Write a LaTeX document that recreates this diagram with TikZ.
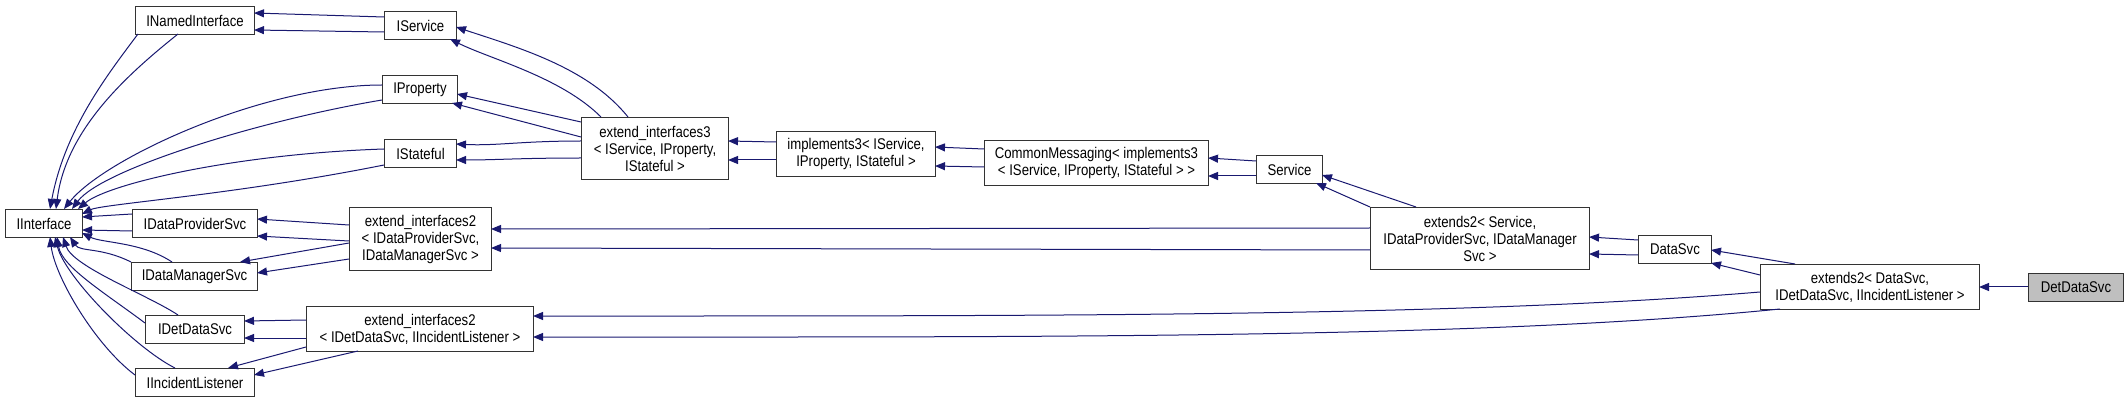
\documentclass[tikz,border=0pt]{standalone}
\usepackage{fontspec}
\setmainfont{Liberation Sans}[FakeStretch=0.85]
\usetikzlibrary{arrows.meta}
\definecolor{edgec}{RGB}{25,25,112}
\begin{document}
\begin{tikzpicture}[x=1pt,y=-1pt,
  box/.style={draw=black!80,line width=1pt,fill=white,anchor=north west,inner sep=0pt,align=center,font=\fontsize{15.5}{17}\selectfont},
  e/.style={draw=edgec,line width=1pt,-{Triangle[length=10pt,width=8pt]}}]
\useasboundingbox (0,0) rectangle (2128,403);
\node[box,minimum width=119,minimum height=28] (INI) at (135,6) {INamedInterface};
\node[box,minimum width=72,minimum height=28] (ISv) at (384,11) {IService};
\node[box,minimum width=75,minimum height=28] (IPr) at (382,75) {IProperty};
\node[box,minimum width=72,minimum height=28] (ISt) at (384,139) {IStateful};
\node[box,minimum width=147,minimum height=62] (E3) at (581,117) {extend\_interfaces3\\{}< IService, IProperty,\\IStateful >};
\node[box,minimum width=77,minimum height=28] (II) at (5,209) {IInterface};
\node[box,minimum width=125,minimum height=28] (IDP) at (132,209) {IDataProviderSvc};
\node[box,minimum width=126,minimum height=28] (IDM) at (131,262) {IDataManagerSvc};
\node[box,minimum width=142,minimum height=63] (E2D) at (349,207) {extend\_interfaces2\\{}< IDataProviderSvc,\\IDataManagerSvc >};
\node[box,minimum width=99,minimum height=28] (IDD) at (145,315) {IDetDataSvc};
\node[box,minimum width=119,minimum height=28] (IIL) at (135,368) {IIncidentListener};
\node[box,minimum width=227,minimum height=45] (E2I) at (306,306) {extend\_interfaces2\\{}< IDetDataSvc, IIncidentListener >};
\node[box,minimum width=159,minimum height=45] (IM3) at (776,131) {implements3< IService,\\IProperty, IStateful >};
\node[box,minimum width=224,minimum height=45] (CM) at (984,140) {CommonMessaging< implements3\\{}< IService, IProperty, IStateful > >};
\node[box,minimum width=66,minimum height=28] (Svc) at (1256,155) {Service};
\node[box,minimum width=219,minimum height=62] (X2S) at (1370,207) {extends2< Service,\\IDataProviderSvc, IDataManager\\Svc >};
\node[box,minimum width=73,minimum height=28] (DS) at (1638,235) {DataSvc};
\node[box,minimum width=219,minimum height=45] (X2D) at (1760,264) {extends2< DataSvc,\\IDetDataSvc, IIncidentListener >};
\node[box,fill=black!25,minimum width=95,minimum height=28] (DDS) at (2028,273) {DetDataSvc};
% edges
\draw[e] ([shift={(0,6)}]ISv.north west) -- ([shift={(119,7)}]INI.north west);
\draw[e] ([shift={(0,21)}]ISv.north west) -- ([shift={(119,24)}]INI.north west);
\draw[e] ([shift={(3,28)}]INI.north west) .. controls +(-30,40) and +(15,-80) .. ([shift={(45,0)}]II.north west);
\draw[e] ([shift={(43,28)}]INI.north west) .. controls +(-50,40) and +(10,-80) .. ([shift={(51,0)}]II.north west);
\draw[e] ([shift={(0,10)}]IPr.north west) .. controls +(-120,0) and +(40,-50) .. ([shift={(59,0)}]II.north west);
\draw[e] ([shift={(0,25)}]IPr.north west) .. controls +(-120,20) and +(30,-40) .. ([shift={(67,0)}]II.north west);
\draw[e] ([shift={(0,10)}]ISt.north west) .. controls +(-150,5) and +(30,-25) .. ([shift={(73,0)}]II.north west);
\draw[e] ([shift={(0,26)}]ISt.north west) .. controls +(-150,30) and +(20,-10) .. ([shift={(77,5)}]II.north west);
\draw[e] ([shift={(0,5)}]IDP.north west) -- ([shift={(77,8)}]II.north west);
\draw[e] ([shift={(0,22)}]IDP.north west) -- ([shift={(77,21)}]II.north west);
\draw[e] ([shift={(41,0)}]IDM.north west) .. controls +(-30,-20) and +(20,10) .. ([shift={(77,24)}]II.north west);
\draw[e] ([shift={(0,0)}]IDM.north west) .. controls +(-30,-15) and +(10,15) .. ([shift={(65,28)}]II.north west);
\draw[e] ([shift={(33,0)}]IDD.north west) .. controls +(-30,-20) and +(10,30) .. ([shift={(58,28)}]II.north west);
\draw[e] ([shift={(0,8)}]IDD.north west) .. controls +(-40,-30) and +(5,30) .. ([shift={(52,28)}]II.north west);
\draw[e] ([shift={(40,0)}]IIL.north west) .. controls +(-40,-20) and +(10,40) .. ([shift={(50,28)}]II.north west);
\draw[e] ([shift={(0,7)}]IIL.north west) .. controls +(-40,-30) and +(5,40) .. ([shift={(45,28)}]II.north west);
\draw[e] ([shift={(47,0)}]E3.north west) .. controls +(-40,-50) and +(60,20) .. ([shift={(72,16)}]ISv.north west);
\draw[e] ([shift={(20,0)}]E3.north west) .. controls +(-40,-40) and +(40,20) .. ([shift={(66,28)}]ISv.north west);
\draw[e] ([shift={(0,5)}]E3.north west) -- ([shift={(75,19)}]IPr.north west);
\draw[e] ([shift={(0,20)}]E3.north west) -- ([shift={(70,28)}]IPr.north west);
\draw[e] ([shift={(0,24)}]E3.north west) .. controls +(-60,0) and +(40,2) .. ([shift={(72,5)}]ISt.north west);
\draw[e] ([shift={(0,41)}]E3.north west) .. controls +(-60,0) and +(40,0) .. ([shift={(72,21)}]ISt.north west);
\draw[e] ([shift={(0,11)}]IM3.north west) -- ([shift={(147,24)}]E3.north west);
\draw[e] ([shift={(0,29)}]IM3.north west) -- ([shift={(147,43)}]E3.north west);
\draw[e] ([shift={(0,9)}]CM.north west) -- ([shift={(159,16)}]IM3.north west);
\draw[e] ([shift={(0,27)}]CM.north west) -- ([shift={(159,35)}]IM3.north west);
\draw[e] ([shift={(0,6)}]Svc.north west) -- ([shift={(224,18)}]CM.north west);
\draw[e] ([shift={(0,21)}]Svc.north west) -- ([shift={(224,36)}]CM.north west);
\draw[e] ([shift={(46,0)}]X2S.north west) -- ([shift={(66,20)}]Svc.north west);
\draw[e] ([shift={(0,0)}]X2S.north west) -- ([shift={(60,28)}]Svc.north west);
\draw[e] ([shift={(0,21)}]X2S.north west) -- ([shift={(142,22)}]E2D.north west);
\draw[e] ([shift={(0,43)}]X2S.north west) -- ([shift={(142,41)}]E2D.north west);
\draw[e] ([shift={(0,5)}]DS.north west) -- ([shift={(219,30)}]X2S.north west);
\draw[e] ([shift={(0,20)}]DS.north west) -- ([shift={(219,47)}]X2S.north west);
\draw[e] ([shift={(35,0)}]X2D.north west) -- ([shift={(73,15)}]DS.north west);
\draw[e] ([shift={(0,11)}]X2D.north west) -- ([shift={(73,28)}]DS.north west);
\draw[e] ([shift={(0,28)}]X2D.north west) .. controls +(-300,25) and +(500,0) .. ([shift={(227,10)}]E2I.north west);
\draw[e] ([shift={(20,45)}]X2D.north west) .. controls +(-300,30) and +(500,0) .. ([shift={(227,31)}]E2I.north west);
\draw[e] ([shift={(0,14)}]DDS.north west) -- ([shift={(219,23)}]X2D.north west);
\draw[e] ([shift={(0,18)}]E2D.north west) -- ([shift={(125,10)}]IDP.north west);
\draw[e] ([shift={(0,34)}]E2D.north west) -- ([shift={(125,27)}]IDP.north west);
\draw[e] ([shift={(0,36)}]E2D.north west) -- ([shift={(109,0)}]IDM.north west);
\draw[e] ([shift={(0,52)}]E2D.north west) -- ([shift={(126,11)}]IDM.north west);
\draw[e] ([shift={(0,14)}]E2I.north west) -- ([shift={(99,6)}]IDD.north west);
\draw[e] ([shift={(0,32)}]E2I.north west) -- ([shift={(99,23)}]IDD.north west);
\draw[e] ([shift={(0,41)}]E2I.north west) -- ([shift={(93,0)}]IIL.north west);
\draw[e] ([shift={(52,45)}]E2I.north west) -- ([shift={(119,7)}]IIL.north west);
\end{tikzpicture}
\end{document}
